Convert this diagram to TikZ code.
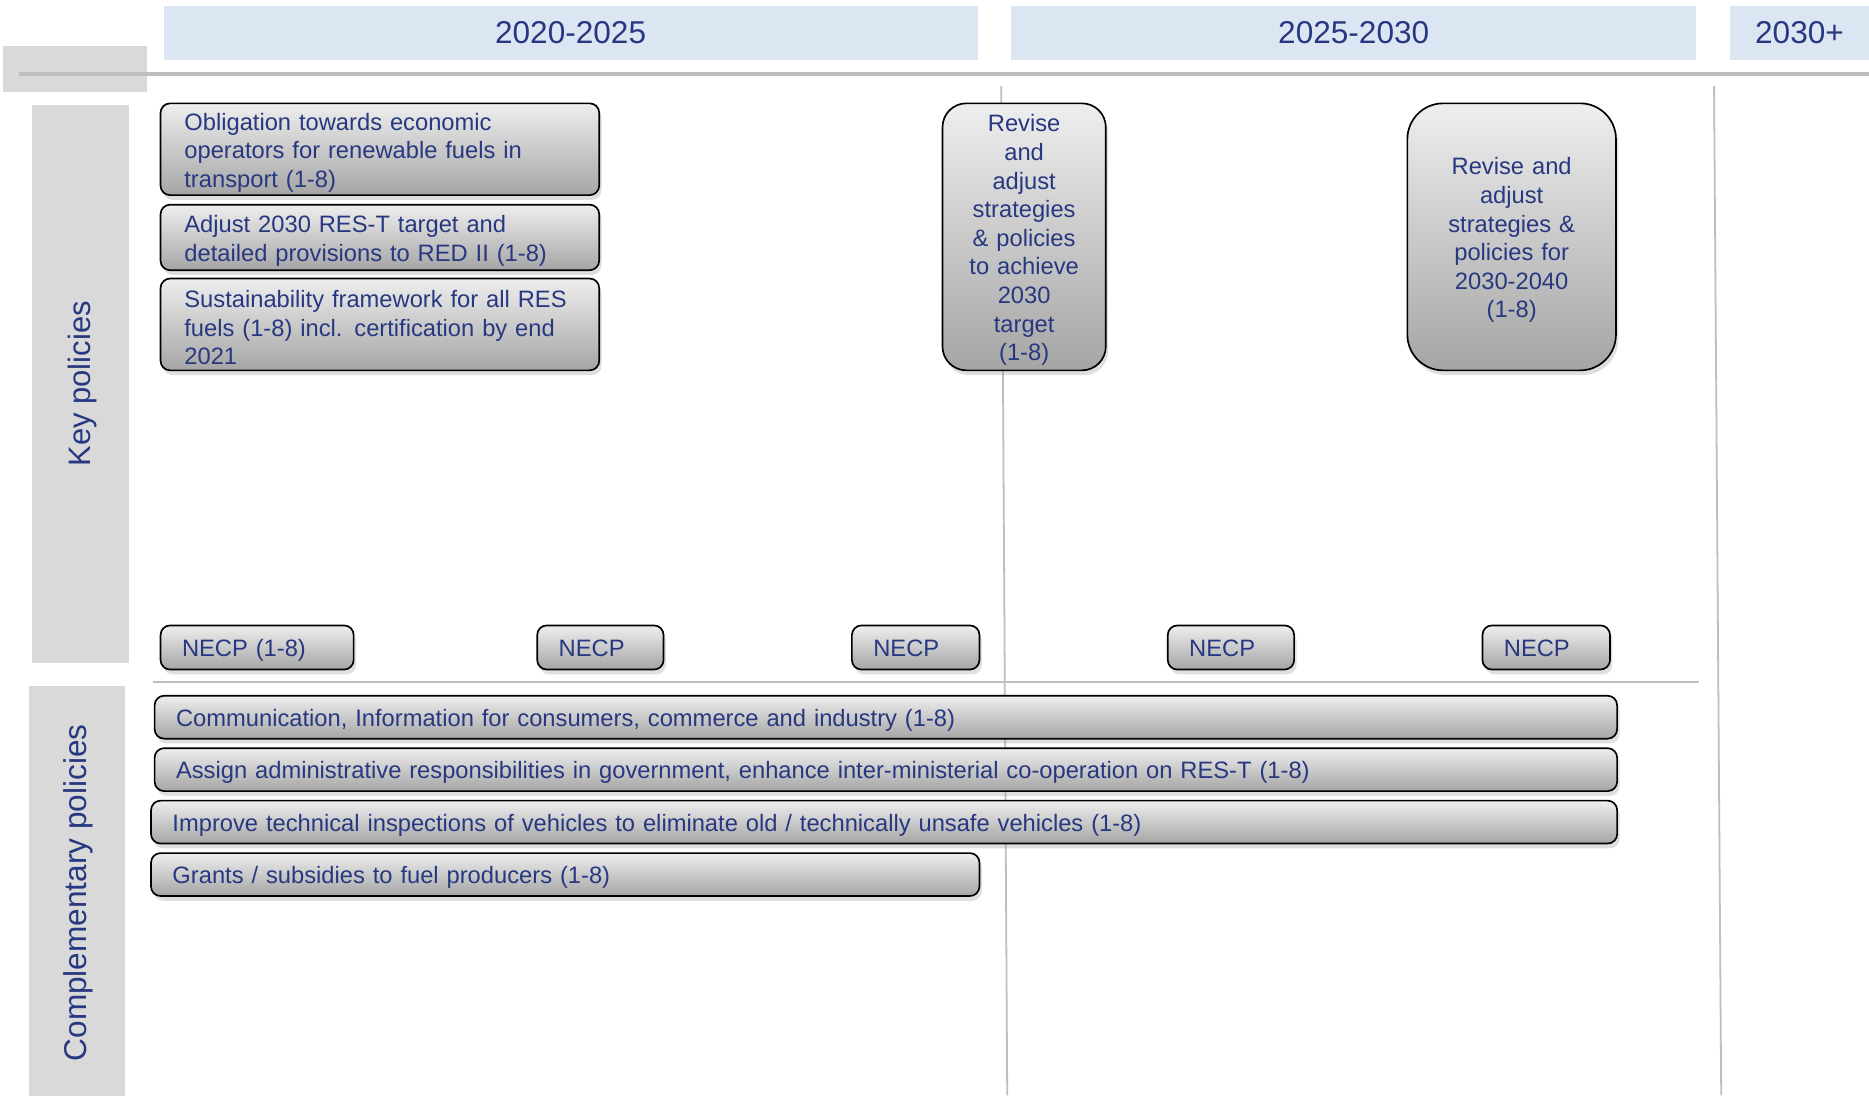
\documentclass[tikz,border=0pt]{standalone}
\usepackage{fontspec}
\setmainfont{Liberation Sans}
\usetikzlibrary{shadows}
\definecolor{navy}{RGB}{40,56,128}
\definecolor{hdr}{RGB}{220,230,242}
\definecolor{side}{RGB}{217,217,217}
\definecolor{rulec}{RGB}{191,191,191}
\definecolor{boxtop}{RGB}{238,238,238}
\definecolor{boxbot}{RGB}{165,165,165}
\begin{document}
\begin{tikzpicture}[x=1pt,y=-1pt,
  pbox/.style={draw=black, line width=1.4pt, rounded corners=8pt,
    top color=boxtop, bottom color=boxbot,
    drop shadow={opacity=0.25, shadow xshift=2pt, shadow yshift=-4pt},
    text=navy, font=\fontsize{19.9}{24}\selectfont,
    execute at begin node={\rule[-4.5pt]{0pt}{24.5pt}},
    inner xsep=20pt, inner ysep=0pt, anchor=north west, align=left},
  hdrbox/.style={fill=hdr, draw=none, anchor=north west, inner sep=0pt,
    text=navy, font=\fontsize{26.5}{30}\selectfont},
  sidebox/.style={fill=side, draw=none, anchor=north west, inner sep=0pt},
  sidelabel/.style={rotate=90, text=navy},
  rulel/.style={draw=rulec, line width=1.5pt}
]
\useasboundingbox (0,0) rectangle (1568,919);

% headers
\node[hdrbox, minimum width=683pt, minimum height=45pt] (h1) at (137,5) {2020-2025};
\node[hdrbox, minimum width=575pt, minimum height=45pt] (h2) at (848,5) {2025-2030};
\node[hdrbox, minimum width=117pt, minimum height=45pt] (h3) at (1451,5) {2030+};

% top-left gray block and timeline rule
\node[sidebox, minimum width=121pt, minimum height=39pt] (corner) at (2,38) {};
\draw[draw=rulec, line width=4pt] (16,62) -- (1568,62);

% side labels
\node[sidebox, minimum width=81pt, minimum height=468pt] (keyside) at (27,88) {};
\node[sidelabel, font=\fontsize{26}{30}\selectfont] (keylab) at (69,322) {Key policies};
\node[sidebox, minimum width=81pt, minimum height=344pt] (compside) at (24,575) {};
\node[sidelabel, font=\fontsize{26.5}{30}\selectfont] (complab) at (66,749) {Complementary policies};

% grid lines
\draw[rulel] (840,72) -- (845,919);
\draw[rulel] (1438,72) -- (1444,919);
\draw[rulel] (128,572) -- (1425,572);

% key policy boxes
\node[pbox, minimum width=368pt, text width=328pt, minimum height=77pt] (b1) at (134,86)
  {Obligation towards economic\\operators for renewable fuels in\\transport (1-8)};
\node[pbox, minimum width=368pt, text width=328pt, minimum height=55pt] (b2) at (134,171)
  {Adjust 2030 RES-T target and\\detailed provisions to RED II (1-8)};
\node[pbox, minimum width=368pt, text width=328pt, minimum height=77pt] (b3) at (134,233)
  {Sustainability framework for all RES\\fuels (1-8) incl. certification by end\\2021};

\node[pbox, rounded corners=20pt, align=center, inner xsep=5pt,
  minimum width=137pt, text width=127pt, minimum height=224pt] (r1) at (790,86)
  {Revise\\and\\adjust\\strategies\\\& policies\\to achieve\\2030\\target\\(1-8)};
\node[pbox, rounded corners=30pt, align=center, inner xsep=5pt,
  minimum width=175pt, text width=165pt, minimum height=224pt] (r2) at (1180,86)
  {Revise and\\adjust\\strategies \&\\policies for\\2030-2040\\(1-8)};

% NECP boxes
\node[pbox, inner xsep=18pt, minimum width=162pt, text width=126pt, minimum height=37pt] (n1) at (134,524) {NECP (1-8)};
\node[pbox, inner xsep=18pt, minimum width=106pt, text width=70pt, minimum height=37pt] (n2) at (450,524) {NECP};
\node[pbox, inner xsep=18pt, minimum width=107pt, text width=71pt, minimum height=37pt] (n3) at (714,524) {NECP};
\node[pbox, inner xsep=18pt, minimum width=106pt, text width=70pt, minimum height=37pt] (n4) at (979,524) {NECP};
\node[pbox, inner xsep=18pt, minimum width=107pt, text width=71pt, minimum height=37pt] (n5) at (1243,524) {NECP};

% complementary policy boxes
\node[pbox, inner xsep=18pt, minimum width=1227pt, text width=1191pt, minimum height=36pt] (c1) at (129,583)
  {Communication, Information for consumers, commerce and industry (1-8)};
\node[pbox, inner xsep=18pt, minimum width=1227pt, text width=1191pt, minimum height=36pt] (c2) at (129,627)
  {Assign administrative responsibilities in government, enhance inter-ministerial co-operation on RES-T (1-8)};
\node[pbox, inner xsep=18pt, minimum width=1230pt, text width=1194pt, minimum height=36pt] (c3) at (126,671)
  {Improve technical inspections of vehicles to eliminate old / technically unsafe vehicles (1-8)};
\node[pbox, inner xsep=18pt, minimum width=695pt, text width=659pt, minimum height=36pt] (c4) at (126,715)
  {Grants / subsidies to fuel producers (1-8)};
\end{tikzpicture}
\end{document}
